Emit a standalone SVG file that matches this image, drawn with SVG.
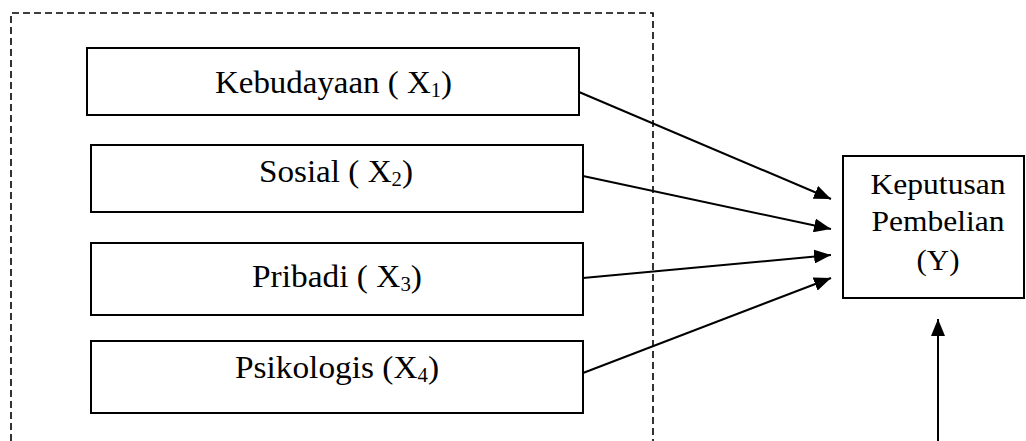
<svg xmlns="http://www.w3.org/2000/svg" width="1026" height="441" viewBox="0 0 1026 441">
<defs>
<style>
.box{fill:#fff;stroke:#000;stroke-width:2}
.lbl{fill:#000;text-anchor:middle}
.sub{font-size:20px}
.edge{stroke:#000;stroke-width:2;fill:none;marker-end:url(#ah)}
.frame{stroke:#000;stroke-width:1.6;fill:none;stroke-dasharray:7 4}
</style>
<marker id="ah" markerUnits="userSpaceOnUse" markerWidth="18" markerHeight="14" refX="17" refY="7" orient="auto">
<path d="M0,0 L17,7 L0,14 Z" fill="#000"/>
</marker>
</defs>
<rect width="1026" height="441" fill="#fff"/>
<path class="frame" d="M11,441 V13 H653 V441"/>
<g font-family="Liberation Serif, Times New Roman, serif" xml:space="preserve">
<g id="x1">
<rect class="box" x="87" y="48" width="492" height="67"/>
<text class="lbl" font-size="32" x="333.5" y="93" textLength="237" lengthAdjust="spacingAndGlyphs">Kebudayaan  ( X<tspan class="sub" dy="4">1</tspan><tspan dy="-4">)</tspan></text>
</g>
<g id="x2">
<rect class="box" x="91" y="145" width="492" height="67"/>
<text class="lbl" font-size="32" x="336" y="182" textLength="154" lengthAdjust="spacingAndGlyphs">Sosial  ( X<tspan class="sub" dy="4">2</tspan><tspan dy="-4">)</tspan></text>
</g>
<g id="x3">
<rect class="box" x="91" y="243" width="492" height="72"/>
<text class="lbl" font-size="32" x="337" y="287" textLength="170" lengthAdjust="spacingAndGlyphs">Pribadi  ( X<tspan class="sub" dy="4">3</tspan><tspan dy="-4">)</tspan></text>
</g>
<g id="x4">
<rect class="box" x="91" y="341" width="492" height="72"/>
<text class="lbl" font-size="32" x="337" y="378" textLength="204" lengthAdjust="spacingAndGlyphs">Psikologis  (X<tspan class="sub" dy="4">4</tspan><tspan dy="-4">)</tspan></text>
</g>
<g id="y">
<rect class="box" x="843" y="156" width="181" height="142"/>
<text class="lbl" font-size="30" x="938" y="194" textLength="135" lengthAdjust="spacingAndGlyphs">Keputusan</text>
<text class="lbl" font-size="30" x="938" y="231" textLength="133" lengthAdjust="spacingAndGlyphs">Pembelian</text>
<text class="lbl" font-size="30" x="938" y="270" textLength="43" lengthAdjust="spacingAndGlyphs">(Y)</text>
</g>
</g>
<g id="connectors">
<line class="edge" x1="579" y1="92" x2="831" y2="199"/>
<line class="edge" x1="583" y1="176" x2="831" y2="229"/>
<line class="edge" x1="583" y1="278" x2="831" y2="255"/>
<line class="edge" x1="583" y1="373" x2="831" y2="278"/>
<line class="edge" x1="938" y1="441" x2="938" y2="319"/>
</g>
</svg>
